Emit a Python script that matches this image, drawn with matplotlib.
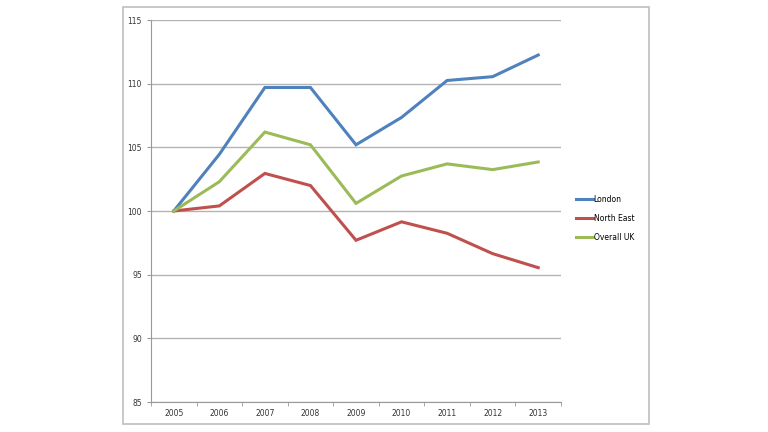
import matplotlib.pyplot as plt
from matplotlib.patches import Rectangle

years = ["2005", "2006", "2007", "2008", "2009", "2010", "2011", "2012", "2013"]
london = [100, 104.45, 109.7, 109.7, 105.2, 107.35, 110.25, 110.55, 112.25]
north_east = [100, 100.4, 102.95, 102.0, 97.7, 99.15, 98.25, 96.65, 95.55]
overall_uk = [100, 102.3, 106.2, 105.2, 100.6, 102.75, 103.7, 103.25, 103.85]
series_names = ["London", "North East", "Overall UK"]
colors = ["#4F81BD", "#C0504D", "#9BBB59"]

fig = plt.figure(figsize=(7.68, 4.32), dpi=100)
fig.patches.append(Rectangle((123 / 768, 1 - 424 / 432), 526 / 768, 417 / 432,
                             transform=fig.transFigure, fill=False,
                             edgecolor="#bfbfbf", linewidth=1.2))

ax = fig.add_axes([151 / 768, 1 - 402 / 432, 410 / 768, 382 / 432])
x = range(len(years))
for vals, name, c in zip([london, north_east, overall_uk], series_names, colors):
    ax.plot(x, vals, color=c, linewidth=2.2, label=name, solid_joinstyle="miter")

ax.set_xlim(-0.5, len(years) - 0.5)
ax.set_ylim(85, 115)
ax.set_yticks(range(85, 116, 5))
ax.set_xticks(list(x))
ax.set_xticklabels(years)
ax.set_xticks([i + 0.5 for i in range(-1, len(years))], minor=True)
ax.tick_params(axis="x", which="major", length=0, labelsize=5.5, colors="#333333", pad=5)
ax.tick_params(axis="x", which="minor", length=3, color="#999999")
ax.tick_params(axis="y", length=3, labelsize=5.5, colors="#333333", color="#999999")
ax.yaxis.grid(True, color="#b3b3b3", linewidth=1.0)
ax.set_axisbelow(True)
for side in ["top", "right"]:
    ax.spines[side].set_visible(False)
for side in ["left", "bottom"]:
    ax.spines[side].set_color("#999999")

ax.legend(loc="upper left", bbox_to_anchor=(1.02, 0.56), frameon=False, fontsize=5.5,
          handlelength=2.2, handletextpad=0.1, labelspacing=1.3)

fig.savefig("out.png", dpi=100)
